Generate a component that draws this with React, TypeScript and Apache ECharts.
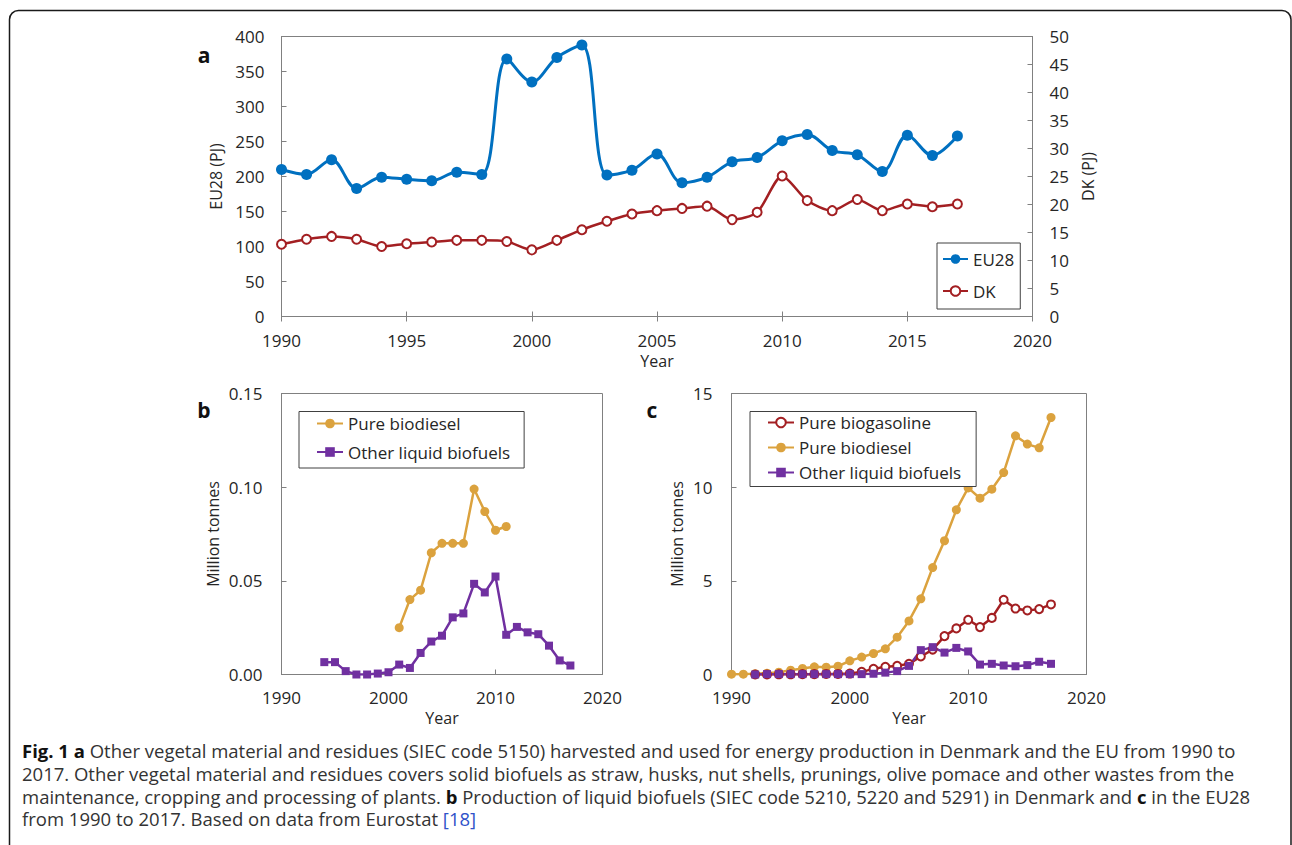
import React, { useEffect, useRef } from "react";
import * as echarts from "echarts";

// ---------- Data ----------
const yearsA = [1990, 1991, 1992, 1993, 1994, 1995, 1996, 1997, 1998, 1999, 2000, 2001, 2002, 2003, 2004, 2005, 2006, 2007, 2008, 2009, 2010, 2011, 2012, 2013, 2014, 2015, 2016, 2017];
const eu28PJ = [210, 203, 224, 183, 199, 196, 194, 206, 203, 368, 335, 370, 388, 202, 209, 232, 191, 199, 221, 227, 251, 260, 237, 231, 207, 259, 230, 258];
const dkPJ = [12.9, 13.8, 14.3, 13.8, 12.5, 13.0, 13.3, 13.6, 13.6, 13.4, 11.9, 13.6, 15.5, 17.0, 18.3, 18.9, 19.3, 19.7, 17.3, 18.6, 25.1, 20.7, 18.9, 20.9, 18.9, 20.1, 19.6, 20.1];

const yearsBDiesel = [2001, 2002, 2003, 2004, 2005, 2006, 2007, 2008, 2009, 2010, 2011];
const dkBiodiesel = [0.025, 0.040, 0.045, 0.065, 0.070, 0.070, 0.070, 0.099, 0.087, 0.077, 0.079];
const yearsBOther = [1994, 1995, 1996, 1997, 1998, 1999, 2000, 2001, 2002, 2003, 2004, 2005, 2006, 2007, 2008, 2009, 2010, 2011, 2012, 2013, 2014, 2015, 2016, 2017];
const dkOther = [0.0066, 0.0066, 0.0018, 0.0, 0.0, 0.0005, 0.0012, 0.0053, 0.0035, 0.0115, 0.0176, 0.0207, 0.0305, 0.0326, 0.0484, 0.0438, 0.0523, 0.0212, 0.0254, 0.0225, 0.0215, 0.0154, 0.0075, 0.0048];

const yearsC = [1990, 1991, 1992, 1993, 1994, 1995, 1996, 1997, 1998, 1999, 2000, 2001, 2002, 2003, 2004, 2005, 2006, 2007, 2008, 2009, 2010, 2011, 2012, 2013, 2014, 2015, 2016, 2017];
const euBiodiesel = [0.02, 0.02, 0.04, 0.07, 0.12, 0.23, 0.32, 0.41, 0.39, 0.44, 0.73, 0.93, 1.12, 1.37, 1.99, 2.86, 4.04, 5.71, 7.14, 8.79, 9.96, 9.41, 9.89, 10.78, 12.74, 12.3, 12.1, 13.72];
const yearsC2 = [1992, 1993, 1994, 1995, 1996, 1997, 1998, 1999, 2000, 2001, 2002, 2003, 2004, 2005, 2006, 2007, 2008, 2009, 2010, 2011, 2012, 2013, 2014, 2015, 2016, 2017];
const euBiogasoline = [0.0, 0.0, 0.01, 0.01, 0.02, 0.02, 0.03, 0.03, 0.05, 0.14, 0.3, 0.41, 0.46, 0.57, 0.96, 1.33, 2.05, 2.46, 2.92, 2.53, 3.02, 3.99, 3.52, 3.42, 3.49, 3.74];
const euOther = [0.0, 0.02, 0.02, 0.02, 0.02, 0.02, 0.02, 0.02, 0.02, 0.02, 0.04, 0.1, 0.18, 0.46, 1.3, 1.46, 1.17, 1.42, 1.23, 0.53, 0.57, 0.48, 0.44, 0.5, 0.68, 0.57];

const captionLines = [
  "{b|Fig. 1 a} Other vegetal material and residues (SIEC code 5150) harvested and used for energy production in Denmark and the EU from 1990 to",
  "2017. Other vegetal material and residues covers solid biofuels as straw, husks, nut shells, prunings, olive pomace and other wastes from the",
  "maintenance, cropping and processing of plants. {b|b} Production of liquid biofuels (SIEC code 5210, 5220 and 5291) in Denmark and {b|c} in the EU28",
  "from 1990 to 2017. Based on data from Eurostat {l|[18]}",
];
const captionY = [750.5, 773.3, 796.1, 818.9];

// ---------- Styles ----------
const FONT = "'Open Sans', 'Noto Sans', sans-serif";
const TXT = "#262626";
const AX = "#808080";
const BLUE = "#0070C0";
const RED = "#A31F22";
const ORANGE = "#DBA23E";
const PURPLE = "#7030A0";
const CAP = 18.5;
const CAP_LH = 20;

const pair = (xs: number[], ys: number[]) => xs.map((x, i) => [x, ys[i]]);

function xAxisDef(grid: number, interval: number, margin: number, nameGap: number, extra: any = {}) {
  return {
    gridIndex: grid,
    type: "value",
    min: 1990,
    max: 2020,
    interval,
    name: "Year",
    nameLocation: "middle",
    nameGap,
    nameTextStyle: { fontSize: 16, color: TXT, fontFamily: FONT, lineHeight: 15 },
    axisLine: { lineStyle: { color: AX, width: 1 } },
    axisTick: { inside: true, length: 5, lineStyle: { color: AX } },
    axisLabel: {
      fontSize: 17,
      lineHeight: 15,
      color: TXT,
      margin,
      fontFamily: FONT,
      formatter: (v: number) => String(v),
    },
    splitLine: { show: false },
    ...extra,
  };
}

function yAxisDef(grid: number, min: number, max: number, interval: number, name: string, nameGap: number, extra: any = {}) {
  return {
    gridIndex: grid,
    type: "value",
    min,
    max,
    interval,
    name,
    nameLocation: "middle",
    nameRotate: 90,
    nameGap,
    nameTextStyle: { fontSize: 16, color: TXT, fontFamily: FONT },
    axisLine: { show: true, lineStyle: { color: AX, width: 1 } },
    axisTick: { show: true, inside: true, length: 5, lineStyle: { color: AX } },
    axisLabel: { fontSize: 17, color: TXT, margin: 17, fontFamily: FONT },
    splitLine: { show: false },
    ...extra,
  };
}

function legendDef(names: string[], left: number, top: number, padding: number[], itemGap: number, itemWidth: number) {
  return {
    data: names,
    orient: "vertical",
    left,
    top,
    padding,
    itemGap,
    itemWidth,
    itemHeight: 12,
    selectedMode: false,
    borderColor: "#404040",
    borderWidth: 1,
    backgroundColor: "#fff",
    textStyle: { fontSize: 17, color: TXT, fontFamily: FONT, lineHeight: 20 },
  };
}

export default function App() {
  const ref = useRef<HTMLDivElement>(null);

  useEffect(() => {
    if (!ref.current) return;
    const chart = echarts.init(ref.current, null, { renderer: "svg" });

    const captionGraphics = captionLines.map((line, i) => ({
      type: "text",
      x: 22,
      y: captionY[i],
      silent: true,
      style: {
        text: line,
        fontSize: CAP,
        lineHeight: CAP_LH,
        fontFamily: FONT,
        fill: "#333",
        verticalAlign: "middle",
        textVerticalAlign: "middle",
        rich: {
          b: { fontSize: CAP, lineHeight: CAP_LH, fontFamily: FONT, fontWeight: "bold", fill: "#111" },
          l: { fontSize: CAP, lineHeight: CAP_LH, fontFamily: FONT, fill: "#2f52c9" },
        },
      },
    }));

    const letter = (t: string, x: number, y: number) => ({
      type: "text",
      x,
      y,
      silent: true,
      style: {
        text: t,
        fontSize: 21,
        fontWeight: "bold",
        fontFamily: FONT,
        fill: "#111",
        align: "center",
        textAlign: "center",
        verticalAlign: "middle",
        textVerticalAlign: "middle",
      },
    });

    const option: any = {
      animation: false,
      backgroundColor: "#fff",
      textStyle: { fontFamily: FONT },
      grid: [
        { left: 281.5, top: 36.5, width: 751, height: 280, show: true, borderColor: AX, borderWidth: 1 },
        { left: 281.5, top: 393.5, width: 321, height: 281, show: true, borderColor: AX, borderWidth: 1 },
        { left: 731.5, top: 393.5, width: 355, height: 281, show: true, borderColor: AX, borderWidth: 1 },
      ],
      xAxis: [
        xAxisDef(0, 5, 16, 36.5),
        xAxisDef(0, 5, 16, 36.5, { position: "top", name: "", axisLabel: { show: false } }),
        xAxisDef(1, 10, 15, 35.5),
        xAxisDef(2, 10, 15, 35.5),
      ],
      yAxis: [
        yAxisDef(0, 0, 400, 50, "EU28 (PJ)", 55),
        yAxisDef(0, 0, 50, 5, "DK (PJ)", 36, { position: "right" }),
        yAxisDef(1, 0, 0.15, 0.05, "Million tonnes", 61, {
          axisLabel: { fontSize: 17, color: TXT, margin: 19, fontFamily: FONT, formatter: (v: number) => v.toFixed(2) },
        }),
        yAxisDef(2, 0, 15, 5, "Million tonnes", 47, {
          axisLabel: { fontSize: 17, color: TXT, margin: 19, fontFamily: FONT },
        }),
      ],
      legend: [
        legendDef(["EU28", "DK"], 937, 243, [6, 6, 8, 5], 12, 25),
        legendDef(["Pure biodiesel", "Other liquid biofuels"], 299, 411.5, [2, 14, 6, 17], 8.5, 26),
        legendDef(["Pure biogasoline", "Pure biodiesel", "Other liquid biofuels"], 750, 411.5, [1, 15, 4, 17], 5, 26),
      ],
      series: [
        {
          name: "EU28",
          type: "line",
          xAxisIndex: 0,
          yAxisIndex: 0,
          data: pair(yearsA, eu28PJ),
          smooth: 0.35,
          symbol: "circle",
          symbolSize: 11,
          lineStyle: { color: BLUE, width: 3 },
          itemStyle: { color: BLUE },
          z: 3,
        },
        {
          name: "DK",
          type: "line",
          xAxisIndex: 0,
          yAxisIndex: 1,
          data: pair(yearsA, dkPJ),
          smooth: 0.25,
          symbol: "emptyCircle",
          symbolSize: 9,
          lineStyle: { color: RED, width: 2.5 },
          itemStyle: { color: RED, borderColor: RED, borderWidth: 2 },
          z: 2,
        },
        {
          name: "Pure biodiesel",
          type: "line",
          xAxisIndex: 2,
          yAxisIndex: 2,
          data: pair(yearsBDiesel, dkBiodiesel),
          symbol: "circle",
          symbolSize: 9,
          lineStyle: { color: ORANGE, width: 2.5 },
          itemStyle: { color: ORANGE },
        },
        {
          name: "Other liquid biofuels",
          type: "line",
          xAxisIndex: 2,
          yAxisIndex: 2,
          data: pair(yearsBOther, dkOther),
          symbol: "rect",
          symbolSize: 8,
          lineStyle: { color: PURPLE, width: 2.5 },
          itemStyle: { color: PURPLE },
        },
        {
          name: "Pure biodiesel",
          type: "line",
          xAxisIndex: 3,
          yAxisIndex: 3,
          data: pair(yearsC, euBiodiesel),
          symbol: "circle",
          symbolSize: 9,
          lineStyle: { color: ORANGE, width: 2.5 },
          itemStyle: { color: ORANGE },
        },
        {
          name: "Pure biogasoline",
          type: "line",
          xAxisIndex: 3,
          yAxisIndex: 3,
          data: pair(yearsC2, euBiogasoline),
          symbol: "emptyCircle",
          symbolSize: 8,
          lineStyle: { color: RED, width: 2.5 },
          itemStyle: { color: RED, borderColor: RED, borderWidth: 2 },
        },
        {
          name: "Other liquid biofuels",
          type: "line",
          xAxisIndex: 3,
          yAxisIndex: 3,
          data: pair(yearsC2, euOther),
          symbol: "rect",
          symbolSize: 8,
          lineStyle: { color: PURPLE, width: 2.5 },
          itemStyle: { color: PURPLE },
        },
      ],
      graphic: [
        {
          type: "rect",
          silent: true,
          z: -10,
          shape: { x: 9.5, y: 10.5, width: 1281.5, height: 900, r: 9 },
          style: { fill: "none", stroke: "#1a1a1a", lineWidth: 1.5 },
        },
        letter("a", 204, 55),
        letter("b", 204, 410),
        letter("c", 652, 410),
        ...captionGraphics,
      ],
    };

    chart.setOption(option);
    return () => chart.dispose();
  }, []);

  return (
    <div
      ref={ref}
      style={{ position: "fixed", left: 0, top: 0, width: 1292, height: 845, background: "#fff" }}
    />
  );
}
